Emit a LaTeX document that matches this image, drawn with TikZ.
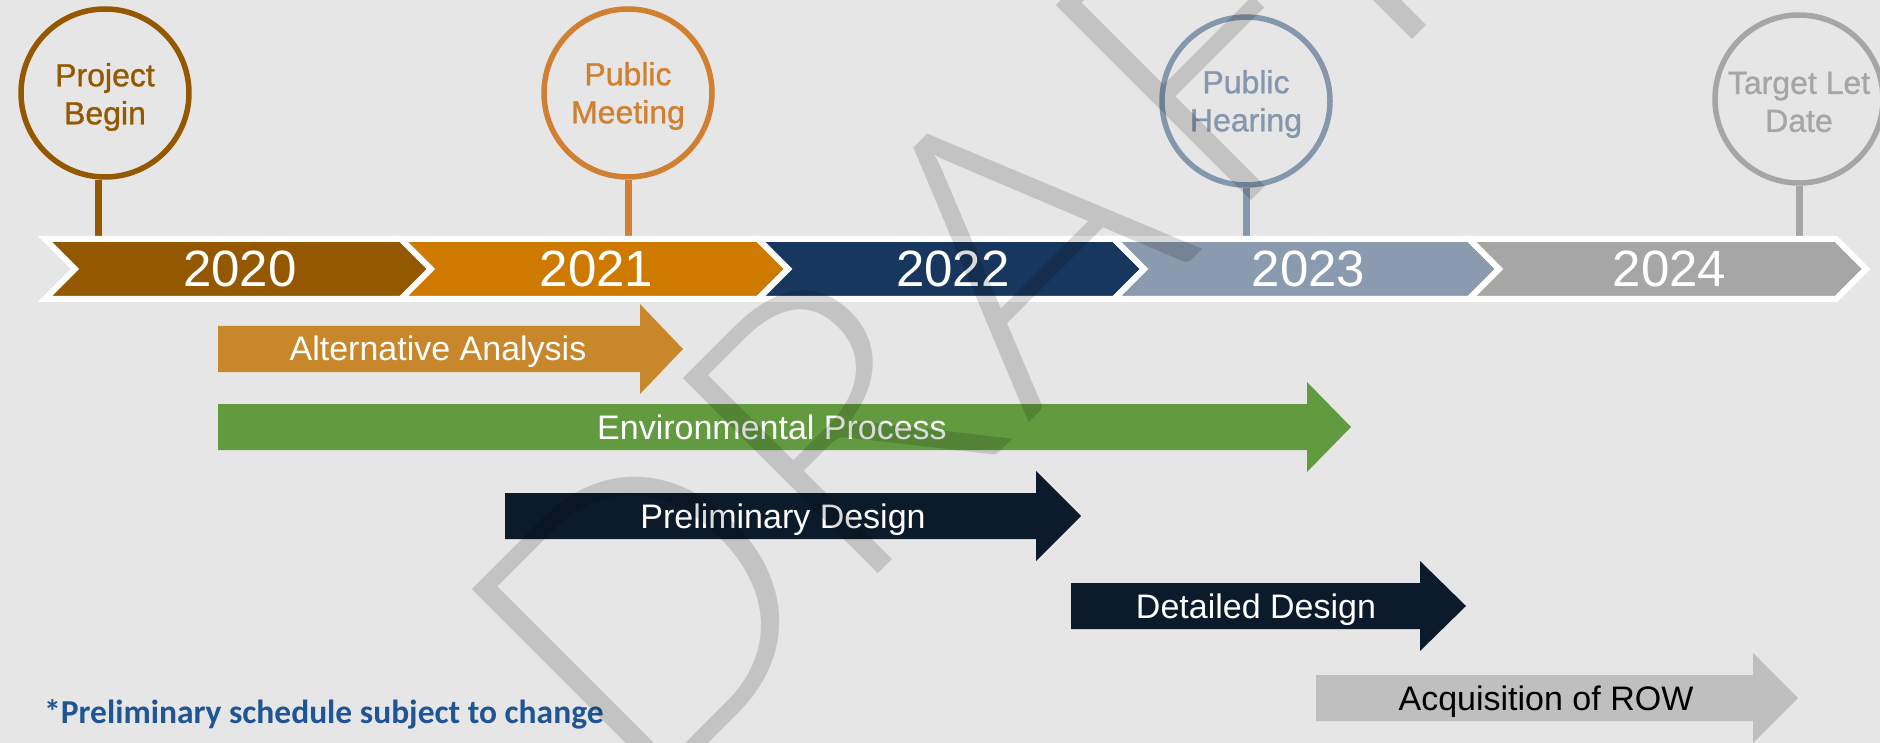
\documentclass[tikz,border=0pt]{standalone}
\usepackage{fontspec}
\setmainfont{Liberation Sans}
\IfFontExistsTF{Noto Sans Light}
  {\newfontfamily\wmfont{Noto Sans Light}\def\wmsize{394}}
  {\IfFontExistsTF{Lato Light}
    {\newfontfamily\wmfont{Lato Light}\def\wmsize{390}}
    {\newfontfamily\wmfont{Carlito}\def\wmsize{445}}}
\newfontfamily\notefont{Carlito}
\newfontfamily\msfont[FakeBold=1]{Liberation Sans}
\definecolor{bg}{HTML}{E6E6E6}
\definecolor{cA}{HTML}{945900}
\definecolor{cB}{HTML}{CE7A00}
\definecolor{cC}{HTML}{17375E}
\definecolor{cD}{HTML}{8A9BAF}
\definecolor{cE}{HTML}{A6A6A6}
\definecolor{pmcol}{HTML}{D08030}
\definecolor{phcol}{HTML}{8497AD}
\definecolor{altcol}{HTML}{C8872A}
\definecolor{envcol}{HTML}{629A3F}
\definecolor{darkcol}{HTML}{0B1B2B}
\definecolor{acqcol}{HTML}{BFBFBF}
\definecolor{notecol}{HTML}{1F5593}
\newcommand{\yearseg}[5]{%
  \fill[#3, draw=white, line width=6pt, line join=miter]
    (#1,239) -- (#2,239) -- (#2+30,269) -- (#2,299) -- (#1,299) -- (#1+30,269) -- cycle;
  \node[yeartext] (#5) at ({(#1+#2)/2+17},269) {#4};}
\newcommand{\taskarrow}[9]{%
  \fill[#5] (#1,#4-23) -- (#2,#4-23) -- (#2,#4-45) -- (#3,#4) -- (#2,#4+45)
    -- (#2,#4+23) -- (#1,#4+23) -- cycle;
  \node[tasktext, text=#9, anchor=base] (#6) at (#7,#4+12) {#8};}
\begin{document}
\begin{tikzpicture}[x=1pt,y=-1pt,
  yeartext/.style={text=white, inner sep=0pt, font=\fontsize{51}{60}\selectfont},
  tasktext/.style={inner sep=0pt, font=\fontsize{34}{40}\selectfont},
  milestone/.style={circle, draw=#1, line width=5.5pt, minimum size=168pt, inner sep=0pt},
  mtext/.style={text=#1, inner sep=0pt, align=center, font=\msfont\fontsize{32}{38}\selectfont},
  stem/.style={draw=#1, line width=7pt},
  wm/.style={inner sep=0pt, text=black, text opacity=0.15, rotate=45,
    font=\wmfont\fontsize{\wmsize}{\wmsize}\selectfont}]
\useasboundingbox (0,0) rectangle (1880,743);
\fill[bg] (0,0) rectangle (1880,743);
\clip (0,0) rectangle (1880,743);
\coordinate (bandtop) at (0,237);
% milestones
\node[milestone=cA] (pb) at (105,93) {};
\node[milestone=pmcol] (pm) at (628,93) {};
\node[milestone=phcol] (ph) at (1246,101) {};
\node[milestone=cE] (tl) at (1799,99) {};
\node[mtext=cA] (pbt) at ([yshift=-4pt]pb.center) {Project\\Begin};
\node[mtext=pmcol] (pmt) at ([yshift=-3pt]pm.center) {Public\\Meeting};
\node[mtext=phcol] (pht) at ([yshift=-3pt]ph.center) {Public\\Hearing};
\node[mtext=cE] (tlt) at ([yshift=-3pt]tl.center) {Target Let\\Date};
\draw[stem=cA] ([xshift=-7pt]pb.south) -- ([xshift=-7pt]pb.south |- bandtop);
\draw[stem=pmcol] (pm.south) -- (pm.south |- bandtop);
\draw[stem=phcol] (ph.south) -- (ph.south |- bandtop);
\draw[stem=cE] (tl.south) -- (tl.south |- bandtop);
% year band
\yearseg{45}{401}{cA}{2020}{y20}
\yearseg{401}{758}{cB}{2021}{y21}
\yearseg{758}{1114}{cC}{2022}{y22}
\yearseg{1114}{1469}{cD}{2023}{y23}
\yearseg{1469}{1836}{cE}{2024}{y24}
% task arrows
\taskarrow{218}{640}{683}{349}{altcol}{alt}{438}{Alternative Analysis}{white}
\taskarrow{218}{1307}{1351}{427}{envcol}{env}{772}{Environmental Process}{white}
\taskarrow{505}{1036}{1081}{516}{darkcol}{pre}{783}{Preliminary Design}{white}
\taskarrow{1071}{1420}{1466}{606}{darkcol}{det}{1256}{Detailed Design}{white}
\taskarrow{1316}{1753}{1798}{698}{acqcol}{acq}{1546}{Acquisition of ROW}{black}
% footnote
\node[anchor=base west, inner sep=0pt, text=notecol,
  font=\notefont\bfseries\fontsize{33.5}{40}\selectfont] (note) at (44,723)
  {*Preliminary schedule subject to change};
% watermark, letter by letter along its baseline
\node[wm, anchor=base west] (wmD) at (638,814) {D};
\node[wm, anchor=base west] (wmR) at (849,603) {R};
\node[wm, anchor=base] (wmA) at (1116,336) {A};
\node[wm, anchor=base west] (wmF) at (1222,230) {F};
\node[wm, anchor=base] (wmT) at (1419,33) {T};
\end{tikzpicture}
\end{document}
